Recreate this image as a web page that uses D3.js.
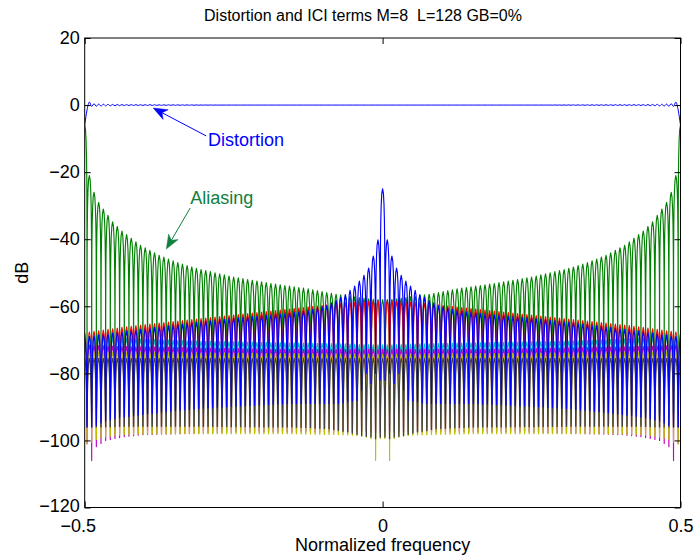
<!DOCTYPE html>
<html>
<head>
<meta charset="utf-8">
<script src="https://cdn.jsdelivr.net/npm/d3@7"></script>
<style>
  body { margin: 0; background: #fff; }
  text { font-family: "Liberation Sans", Arial, Helvetica, sans-serif; }
</style>
</head>
<body>
<svg id="chart" width="698" height="557"></svg>
<script>
// Spectra are built from lobes 1/128 wide, mirrored about f = 0.
// Lobe centres and nulls are counted in bins from the centre.
const binsPerUnit = 128;
const peakAt = [0, 1, 2, 3, 4, 5, 6, 8, 10, 12, 16, 20, 24, 32, 40, 44, 48, 52, 56, 58, 60, 61, 62, 63, 64];
const nullAt = [0.5, 1.5, 2.5, 3.5, 4.5, 5.5, 7.5, 9.5, 11.5, 15.5, 19.5, 23.5, 31.5, 39.5, 43.5, 47.5, 51.5, 55.5, 57.5, 59.5, 60.5, 61.5, 62.5, 63.5];

// Distortion term (dB) at lobe centres and between them
const distortionPeak = [0, 0, 0, 0, 0, 0, 0, 0, 0, 0, 0, 0, 0, 0, 0.05, 0.08, 0.1, 0.12, 0.15, 0.2, 0.25, 0.3, 0.4, 0.9, -6];
const distortionNull = [0, 0, 0, 0, 0, 0, 0, 0, 0, 0, 0, 0, 0, -0.05, -0.08, -0.1, -0.12, -0.15, -0.2, -0.25, -0.3, -0.35, -0.4, -1.5];

// Aliasing term
const aliasingPeak = [-58, -58, -57.9, -57.8, -57.6, -57.4, -57.2, -56.8, -56.4, -55.9, -54.8, -54, -53.2, -51.3, -48.7, -47, -44.8, -41.8, -37.6, -34.8, -31, -29, -26, -21, -6];
const aliasingNull = [-82, -82, -82, -82, -82, -82, -82, -82, -82, -82, -82, -82, -82, -81, -80, -80, -79, -78, -77, -76, -75, -78, -84, -92];

// ICI terms
const ici1Peak = [-74, -58.3, -58.4, -58.5, -58.6, -58.7, -58.8, -59, -59.3, -59.6, -60.2, -60.8, -61.4, -62.6, -63.8, -64.4, -65, -65.6, -66.3, -66.7, -67.1, -67.3, -67.5, -67.7, -68];
const ici1Null = [-78, -84, -86, -86, -86, -86, -86, -86, -86, -86, -86, -86, -86, -86, -86, -86, -86, -86, -86, -86, -86, -86, -86, -86];

const ici2Peak = [-71.5, -71.5, -71.5, -71.4, -71.4, -71.4, -71.3, -71.2, -71.2, -71.1, -71, -70.9, -70.8, -70.6, -70.4, -70.2, -70, -69.8, -69.5, -69.3, -69, -68.9, -68.8, -68.6, -68.5];
const ici2Null = [-92, -92, -92, -92, -92, -92, -92, -92, -92, -92, -92, -92, -92, -92, -92, -92, -92, -92, -92, -92, -92, -92, -92, -92];

const ici3Peak = [-72.8, -72.8, -72.8, -72.8, -72.8, -72.8, -72.8, -72.8, -72.8, -72.8, -72.8, -72.8, -72.8, -72.6, -72.4, -72.3, -72.2, -72.1, -72, -71.9, -71.8, -71.8, -71.7, -71.6, -71.5];
const ici3Null = [-97.5, -97.5, -97.5, -97.5, -97.5, -97.5, -97.5, -97.5, -97.5, -97.5, -97.5, -97.5, -97.5, -97.8, -98, -98.1, -98.3, -98.9, -99.4, -100, -100.9, -101.9, -106, -101];

const ici4Peak = [-74.3, -74.3, -74.3, -74.3, -74.3, -74.3, -74.3, -74.3, -74.2, -74.2, -74.2, -74.1, -74.1, -74, -74, -73.9, -73.9, -73.8, -73.8, -73.7, -73.7, -73.6, -73.6, -73.6, -73.5];
const ici4Null = [-99.5, -106, -99.5, -99, -98.8, -98.6, -98.4, -98.3, -98.2, -98.1, -98, -98, -98, -98, -98, -98, -98.1, -98.3, -98.5, -99, -99.3, -99.7, -100.5, -101];

const ici5Peak = [-75.5, -75.5, -75.5, -75.5, -75.5, -75.5, -75.5, -75.5, -75.5, -75.5, -75.5, -75.5, -75.5, -75.5, -75.5, -75.5, -75.5, -75.5, -75.5, -75.5, -75.5, -75.5, -75.5, -75.5, -75.5];
const ici5Null = [-99, -99.5, -99, -98.8, -98.5, -98.2, -97.5, -97, -96.5, -96.2, -96, -96, -95.9, -95.8, -95.8, -95.8, -95.8, -95.8, -95.9, -96, -96, -96, -96, -96];

const ici6Peak = [-25, -40.2, -45, -48.6, -50.8, -52.5, -54, -56.5, -58.2, -59.8, -61.3, -62, -62.6, -63.6, -64.8, -65.5, -66.2, -66.9, -67.6, -68, -68.4, -68.6, -68.8, -69, -69.3];
const ici6Null = [-82, -80, -83, -80, -85, -88, -88.5, -89, -89, -89, -89, -89.2, -89.8, -90.5, -91, -91.6, -92.3, -93, -93.5, -94.2, -94.8, -95.5, -96, -96];

// Axis settings
const xTicks = [-0.5, 0, 0.5];
const yTicks = [-120, -100, -80, -60, -40, -20, 0, 20];

const series = [
  { name: "distortion", peak: distortionPeak, nul: distortionNull, color: "#0000ff", smooth: true },
  { name: "aliasing", peak: aliasingPeak, nul: aliasingNull, color: "#008000" },
  { name: "ici1", peak: ici1Peak, nul: ici1Null, color: "#ff0000" },
  { name: "ici2", peak: ici2Peak, nul: ici2Null, color: "#00bfbf" },
  { name: "ici3", peak: ici3Peak, nul: ici3Null, color: "#bf00bf" },
  { name: "ici4", peak: ici4Peak, nul: ici4Null, color: "#bfbf00" },
  { name: "ici5", peak: ici5Peak, nul: ici5Null, color: "#404040" },
  { name: "ici6", peak: ici6Peak, nul: ici6Null, color: "#0000ff" }
];

const svg = d3.select("#chart");
svg.append("rect").attr("width", 698).attr("height", 557).attr("fill", "#fff");

const plotLeft = 84.7, plotRight = 680.5, plotTop = 38, plotBottom = 507.5;
const x = d3.scaleLinear().domain([-0.5, 0.5]).range([plotLeft, plotRight]);
const y = d3.scaleLinear().domain([-120, 20]).range([plotBottom, plotTop]);

svg.append("defs").append("clipPath").attr("id", "plotClip")
  .append("rect").attr("x", plotLeft).attr("y", plotTop)
  .attr("width", plotRight - plotLeft).attr("height", plotBottom - plotTop);

// Build the point list of one spectrum: lobe arches between nulls
function spectrum(s) {
  const pk = d3.scaleLinear().domain(peakAt).range(s.peak).clamp(true);
  const nl = d3.scaleLinear().domain(nullAt).range(s.nul).clamp(true);
  const half = binsPerUnit / 2;
  const pts = [];
  if (s.smooth) {
    for (let k = -half; k <= half; k++) {
      pts.push([k / binsPerUnit, pk(Math.abs(k))]);
      if (k < half) pts.push([(k + 0.5) / binsPerUnit, nl(Math.abs(k + 0.5))]);
    }
    return pts;
  }
  const steps = [0, 0.35, 0.6, 0.78, 0.9, 0.96, 1];
  for (let k = -half; k < half; k++) {
    const pA = pk(Math.abs(k)), pB = pk(Math.abs(k + 1)), n = nl(Math.abs(k + 0.5));
    steps.forEach(st => {
      const v = st >= 1 ? n : Math.max(n, pA + 20 * Math.log10(Math.cos(Math.PI * st / 2)));
      pts.push([(k + 0.5 * st) / binsPerUnit, v]);
    });
    steps.slice(0, -1).reverse().forEach(st => {
      const v = Math.max(n, pB + 20 * Math.log10(Math.cos(Math.PI * st / 2)));
      pts.push([(k + 1 - 0.5 * st) / binsPerUnit, v]);
    });
  }
  return pts;
}

const plot = svg.append("g").attr("clip-path", "url(#plotClip)");
series.forEach(s => {
  const line = d3.line().x(d => x(d[0])).y(d => y(d[1]))
    .curve(s.smooth ? d3.curveMonotoneX : d3.curveLinear);
  plot.append("path")
    .datum(spectrum(s))
    .attr("d", line)
    .attr("fill", "none")
    .attr("stroke", s.color)
    .attr("stroke-width", s.smooth ? 1 : 1.15)
    .attr("stroke-linejoin", "round");
});

// Frame and ticks (inward, on all four sides)
const fmt = d => d3.format("")(d);
const tickLen = 6;
const axB = svg.append("g").attr("transform", `translate(0,${plotBottom})`)
  .call(d3.axisBottom(x).tickValues(xTicks).tickSizeInner(-tickLen).tickSizeOuter(0).tickPadding(11.5).tickFormat(fmt));
const axT = svg.append("g").attr("transform", `translate(0,${plotTop})`)
  .call(d3.axisTop(x).tickValues(xTicks).tickSizeInner(-tickLen).tickSizeOuter(0).tickFormat(""));
const axL = svg.append("g").attr("transform", `translate(${plotLeft},0)`)
  .call(d3.axisLeft(y).tickValues(yTicks).tickSizeInner(-tickLen).tickSizeOuter(0).tickPadding(5).tickFormat(fmt));
const axR = svg.append("g").attr("transform", `translate(${plotRight},0)`)
  .call(d3.axisRight(y).tickValues(yTicks).tickSizeInner(-tickLen).tickSizeOuter(0).tickFormat(""));
[axB, axT, axL, axR].forEach(a => {
  a.select(".domain").remove();
  a.selectAll("line").attr("stroke", "#000");
  a.selectAll("text").attr("font-size", 18).attr("fill", "#000")
    .style("font-family", '"Liberation Sans", Arial, sans-serif');
});
// negative x labels sit slightly left of their tick; the lowest y label is nudged up off the corner
axB.selectAll(".tick text").filter(d => d < 0).attr("dx", -7);
axL.selectAll(".tick text").filter(d => d === -120).attr("y", -2);
svg.append("rect").attr("x", plotLeft).attr("y", plotTop)
  .attr("width", plotRight - plotLeft).attr("height", plotBottom - plotTop)
  .attr("fill", "none").attr("stroke", "#000").attr("stroke-width", 1);

// Title and axis labels
svg.append("text").attr("x", 363).attr("y", 21).attr("text-anchor", "middle")
  .attr("font-size", 16).attr("xml:space", "preserve").style("white-space", "pre")
  .text("Distortion and ICI terms M=8  L=128 GB=0%");
svg.append("text").attr("x", (plotLeft + plotRight) / 2).attr("y", 551).attr("text-anchor", "middle")
  .attr("font-size", 18).text("Normalized frequency");
svg.append("text").attr("transform", `translate(28,${(plotTop + plotBottom) / 2}) rotate(-90)`)
  .attr("text-anchor", "middle").attr("font-size", 18).text("dB");

// Annotations with arrows
function arrow(x1, y1, x2, y2, color) {
  const px1 = x(x1), py1 = y(y1), px2 = x(x2), py2 = y(y2);
  const ang = Math.atan2(py2 - py1, px2 - px1);
  const len = 14, hw = 5.5, notch = 4;
  const bx = px2 - len * Math.cos(ang), by = py2 - len * Math.sin(ang);
  const nx = px2 - (len - notch) * Math.cos(ang), ny = py2 - (len - notch) * Math.sin(ang);
  const ox = -Math.sin(ang) * hw, oy = Math.cos(ang) * hw;
  svg.append("line").attr("x1", px1).attr("y1", py1).attr("x2", nx).attr("y2", ny)
    .attr("stroke", color).attr("stroke-width", 1);
  svg.append("path")
    .attr("d", `M${px2},${py2}L${bx + ox},${by + oy}L${nx},${ny}L${bx - ox},${by - oy}Z`)
    .attr("fill", color).attr("stroke", color).attr("stroke-width", 0.5);
}
const distortionColor = "#0000ff", aliasingColor = "#108040";
arrow(-0.296, -9.2, -0.385, -0.9, distortionColor);
svg.append("text").attr("x", x(-0.293)).attr("y", y(-10.3) + 6.5).attr("font-size", 18)
  .attr("fill", distortionColor).text("Distortion");
arrow(-0.323, -30.7, -0.363, -42.9, aliasingColor);
svg.append("text").attr("x", x(-0.323)).attr("y", y(-27.7) + 6.5).attr("font-size", 18)
  .attr("fill", aliasingColor).text("Aliasing");
</script>
</body>
</html>
